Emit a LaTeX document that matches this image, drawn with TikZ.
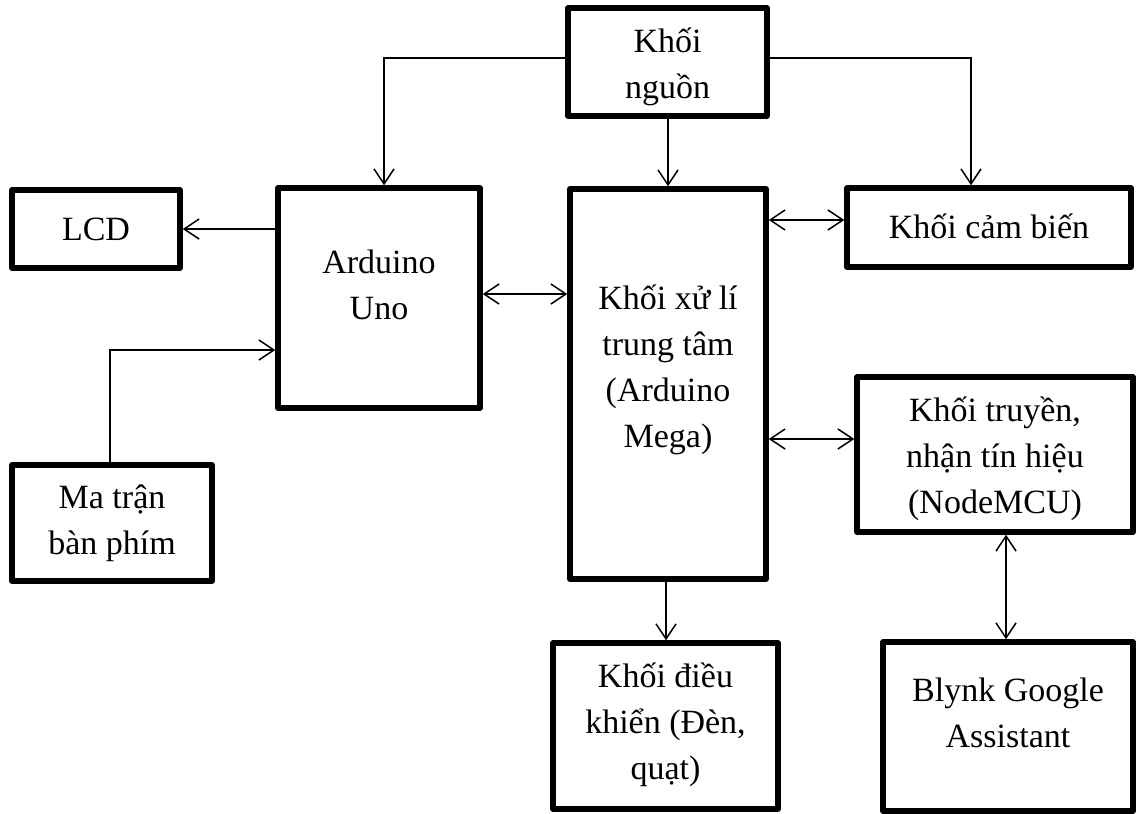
\documentclass[tikz,border=0pt]{standalone}
\usepackage{fontspec}
\setmainfont{Liberation Serif}
\usetikzlibrary{arrows.meta,calc}
\begin{document}
\begin{tikzpicture}[x=1pt,y=-1pt,
  box/.style={draw,line width=5.5pt,inner sep=0pt,line join=round},
  lbl/.style={align=center,font=\fontsize{34}{46}\selectfont,inner sep=0pt},
  barb/.tip={Straight Barb[length=15pt,width=20pt,line width=1.5pt]},
  conn/.style={line width=1.5pt,-barb},
  bi/.style={line width=1.5pt,barb-barb}]
\useasboundingbox (0,0) rectangle (1136,814);

% boxes
\node[box,minimum width=199pt,minimum height=108pt] (nguon) at (667.5,62) {};
\node[box,minimum width=168pt,minimum height=78pt] (lcd) at (96,229) {};
\node[box,minimum width=202pt,minimum height=220pt] (uno) at (379,298) {};
\node[box,minimum width=196pt,minimum height=390pt] (central) at (668,384) {};
\node[box,minimum width=284pt,minimum height=79pt] (camb) at (989,227.5) {};
\node[box,minimum width=276pt,minimum height=155pt] (truyen) at (995,454.5) {};
\node[box,minimum width=200pt,minimum height=116pt] (keypad) at (112,523) {};
\node[box,minimum width=225pt,minimum height=166pt] (control) at (665.5,726) {};
\node[box,minimum width=250pt,minimum height=169pt] (blynk) at (1008,726.5) {};

% labels
\node[lbl] (nguon-t) at (667.5,67) {Khối\\nguồn};
\node[lbl] (lcd-t) at (96,229) {LCD};
\node[lbl] (uno-t) at (379,285) {Arduino\\Uno};
\node[lbl] (central-t) at (668,370) {Khối xử lí\\trung tâm\\(Arduino\\Mega)};
\node[lbl] (camb-t) at (989,226) {Khối cảm biến};
\node[lbl] (truyen-t) at (995,459) {Khối truyền,\\nhận tín hiệu\\(NodeMCU)};
\node[lbl] (keypad-t) at (112,523) {Ma trận\\bàn phím};
\node[lbl] (control-t) at (665.5,725) {Khối điều\\khiển (Đèn,\\quạt)};
\node[lbl] (blynk-t) at (1008,713) {Blynk Google\\Assistant};

% connectors
\draw[conn] ([yshift=4pt]nguon.west) -| ([xshift=5pt]uno.north);
\draw[conn] (nguon.south -| central.north) -- (central.north);
\draw[conn] ([yshift=4pt]nguon.east) -| ([xshift=-18pt]camb.north);
\draw[conn] (lcd.east -| uno.west) -- (lcd.east);
\draw[conn] ([xshift=-2pt]keypad.north) |- ([yshift=-52pt]uno.west);
\draw[bi] ([yshift=4pt]uno.east) -- ([yshift=4pt]uno.east -| central.west);
\draw[bi] ([yshift=7.5pt]camb.west -| central.east) -- ([yshift=7.5pt]camb.west);
\draw[bi] ([yshift=15.5pt]truyen.west -| central.east) -- ([yshift=15.5pt]truyen.west);
\draw[conn] ([xshift=-2pt]central.south) -- ([xshift=-2pt]central.south |- control.north);
\draw[bi] ([xshift=-2pt]blynk.north |- truyen.south) -- ([xshift=-2pt]blynk.north);
\end{tikzpicture}
\end{document}
